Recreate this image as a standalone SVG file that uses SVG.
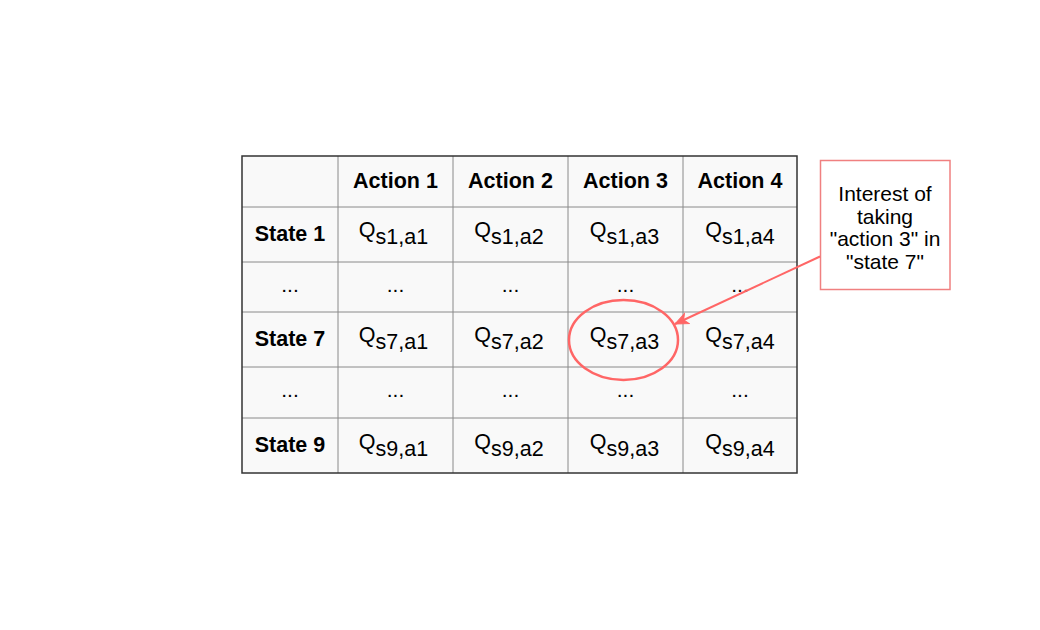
<svg xmlns="http://www.w3.org/2000/svg" width="1040" height="630" viewBox="0 0 1040 630">
  <style>
    .cell { fill: #f9f9f9; stroke: none; }
    .grid { stroke: #8a8a8a; stroke-width: 1; fill: none; }
    .outer { stroke: #333333; stroke-width: 1.5; fill: none; }
    .b { font-family: "Liberation Sans", Arial, sans-serif; font-size: 21.5px; font-weight: bold; fill: #000; text-anchor: middle; }
    .t { font-family: "Liberation Sans", Arial, sans-serif; font-size: 21px; fill: #000; text-anchor: middle; }
    .q { font-family: "Liberation Sans", Arial, sans-serif; font-size: 21.5px; fill: #000; text-anchor: middle; }
    .hl { fill: none; stroke: #ff6666; stroke-width: 2.5; }
    .note { fill: #ffffff; stroke: #f08080; stroke-width: 1.5; }
    .conn { fill: none; stroke: #ff6666; stroke-width: 2; }
  </style>
  <defs>
    <marker id="arrow" markerUnits="userSpaceOnUse" markerWidth="16" markerHeight="14" refX="14" refY="7" orient="auto" viewBox="0 0 16 14">
      <path d="M14,7 L1,1.5 L4.5,7 L1,12.5 Z" fill="#ff6666" stroke="#ff6666" stroke-width="1"/>
    </marker>
  </defs>
  <rect width="1040" height="630" fill="#ffffff"/>

  <g id="table">
    <rect class="cell" x="242" y="156" width="555" height="317"/>
    <g class="grid">
      <line x1="338" y1="156" x2="338" y2="473"/>
      <line x1="453" y1="156" x2="453" y2="473"/>
      <line x1="568" y1="156" x2="568" y2="473"/>
      <line x1="683" y1="156" x2="683" y2="473"/>
      <line x1="242" y1="207" x2="797" y2="207"/>
      <line x1="242" y1="262" x2="797" y2="262"/>
      <line x1="242" y1="312" x2="797" y2="312"/>
      <line x1="242" y1="367" x2="797" y2="367"/>
      <line x1="242" y1="418" x2="797" y2="418"/>
    </g>
    <rect class="outer" x="242" y="156" width="555" height="317"/>

    <text class="b" x="395.5" y="188">Action 1</text>
    <text class="b" x="510.5" y="188">Action 2</text>
    <text class="b" x="625.5" y="188">Action 3</text>
    <text class="b" x="740" y="188">Action 4</text>

    <text class="b" x="290" y="241">State 1</text>
    <text class="q" x="393.5" y="236.5">Q<tspan dy="7">s1,a1</tspan></text>
    <text class="q" x="509" y="236.5">Q<tspan dy="7">s1,a2</tspan></text>
    <text class="q" x="624.5" y="236.5">Q<tspan dy="7">s1,a3</tspan></text>
    <text class="q" x="740" y="236.5">Q<tspan dy="7">s1,a4</tspan></text>

    <text class="t" x="290" y="292">...</text>
    <text class="t" x="395.5" y="292">...</text>
    <text class="t" x="510.5" y="292">...</text>
    <text class="t" x="625.5" y="292">...</text>
    <text class="t" x="740" y="292">...</text>

    <text class="b" x="290" y="346">State 7</text>
    <text class="q" x="393.5" y="341.5">Q<tspan dy="7">s7,a1</tspan></text>
    <text class="q" x="509" y="341.5">Q<tspan dy="7">s7,a2</tspan></text>
    <text class="q" x="624.5" y="341.5">Q<tspan dy="7">s7,a3</tspan></text>
    <text class="q" x="740" y="341.5">Q<tspan dy="7">s7,a4</tspan></text>

    <text class="t" x="290" y="397">...</text>
    <text class="t" x="395.5" y="397">...</text>
    <text class="t" x="510.5" y="397">...</text>
    <text class="t" x="625.5" y="397">...</text>
    <text class="t" x="740" y="397">...</text>

    <text class="b" x="290" y="452">State 9</text>
    <text class="q" x="393.5" y="448.5">Q<tspan dy="7">s9,a1</tspan></text>
    <text class="q" x="509" y="448.5">Q<tspan dy="7">s9,a2</tspan></text>
    <text class="q" x="624.5" y="448.5">Q<tspan dy="7">s9,a3</tspan></text>
    <text class="q" x="740" y="448.5">Q<tspan dy="7">s9,a4</tspan></text>
  </g>

  <g id="highlight">
    <ellipse class="hl" cx="623.5" cy="340" rx="54.5" ry="40"/>
  </g>

  <g id="note">
    <rect class="note" x="820.5" y="160.5" width="129.5" height="129"/>
    <text class="t" x="885" y="201">Interest of</text>
    <text class="t" x="885" y="223.5">taking</text>
    <text class="t" x="885" y="246">"action 3" in</text>
    <text class="t" x="885" y="268.5">"state 7"</text>
  </g>

  <g id="connectors">
    <line class="conn" x1="820" y1="256.5" x2="675" y2="324" marker-end="url(#arrow)"/>
  </g>
</svg>
